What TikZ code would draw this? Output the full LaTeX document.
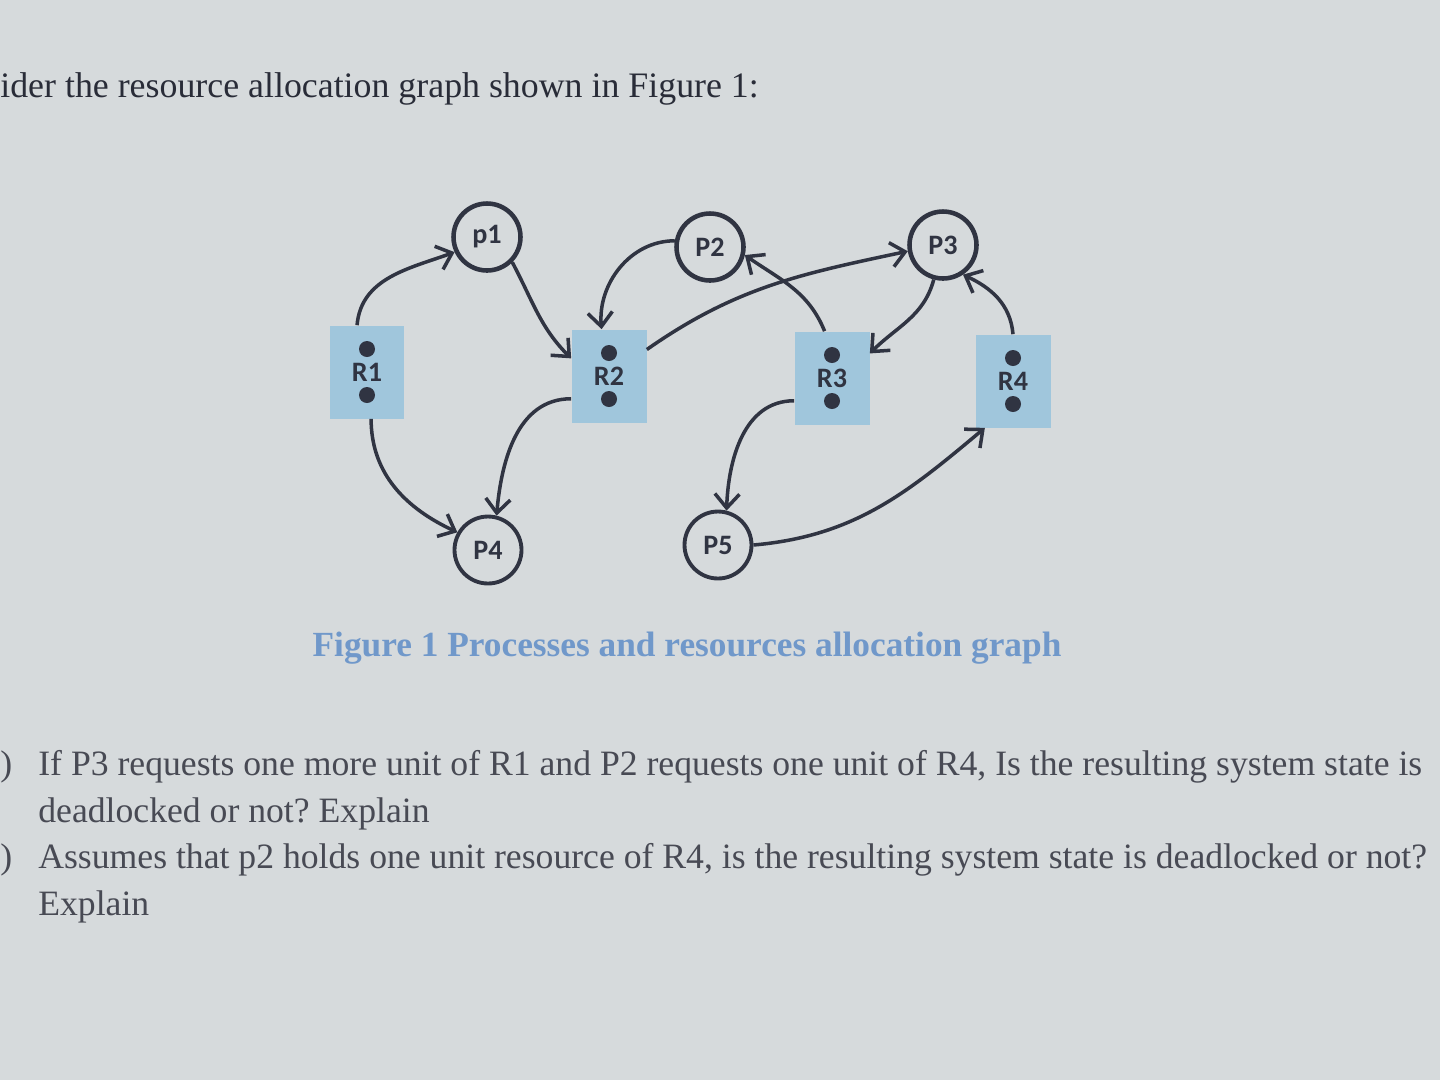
\documentclass[tikz,border=0pt]{standalone}
\usepackage{fontspec}
\setmainfont{Liberation Serif}
\newfontfamily\labelfont{Carlito}
\usepackage{tikz}
\usetikzlibrary{arrows.meta,calc}
\definecolor{paper}{RGB}{214,218,220}
\definecolor{ink}{RGB}{48,52,66}
\definecolor{resblue}{RGB}{160,198,220}
\definecolor{capblue}{RGB}{112,152,202}
\definecolor{qgray}{RGB}{72,74,84}
\frenchspacing

\begin{document}
\begin{tikzpicture}[x=0.02cm, y=0.02cm,
  proc/.style={circle, draw=ink, line width=2.6pt, minimum size=1.34cm,
    inner sep=0pt, text=ink, font=\labelfont\bfseries\fontsize{16}{16}\selectfont},
  res/.style={rectangle, fill=resblue, minimum width=1.5cm,
    minimum height=1.86cm, inner sep=0pt, text=ink,
    font=\labelfont\bfseries\fontsize{16}{16}\selectfont},
  edge/.style={draw=ink, line width=2pt,
    -{Straight Barb[length=8pt, width=14pt]}},
  para/.style={anchor=base west, inner sep=0pt, text=qgray,
    font=\fontsize{20.3}{20.3}\selectfont}
]

% Page
\fill[paper] (0,0) rectangle (1440,-1080);
\useasboundingbox (0,0) rectangle (1440,-1080);

% Heading
\node[anchor=base west, inner sep=0pt, text=ink!85!black,
  font=\fontsize{20.4}{20.4}\selectfont]
  (head) at (0,-97) {ider the resource allocation graph shown in Figure 1:};

% Processes
\node[proc] (p1) at (487,-237) {p1};
\node[proc] (p2) at (710,-247) {P2};
\node[proc] (p3) at (943,-245) {P3};
\node[proc, line width=2.2pt] (p4) at (488,-550) {P4};
\node[proc, line width=2.2pt] (p5) at (718,-545) {P5};

% Resources
\node[res] (r1) at (367,-372) {R1};
\node[res] (r2) at (609,-376) {R2};
\node[res] (r3) at (832,-378) {R3};
\node[res] (r4) at (1013,-381) {R4};
\foreach \r in {r1,r2,r3,r4} {
  \fill[ink] ($(\r)+(0,23)$) circle (8);
  \fill[ink] ($(\r)+(0,-23)$) circle (8);
}

% Edges
\draw[edge] (r1.102) to[out=85, in=200] (p1.205);
\draw[edge] (p1.-45) to[out=-62, in=135] (r2.155);
\draw[edge] (p2.170) to[out=180, in=95] (r2.99);
\draw[edge] (r2.35) to[out=35, in=192] (p3.190);
\draw[edge] (r3.99) to[out=112, in=-35] (p2.-13);
\draw[edge] (p3.255) to[out=-105, in=45] (r3.33);
\draw[edge] (r4.north) to[out=95, in=-25] (p3.-56);
\draw[edge] (r1.-85) to[out=-90, in=155] (p4.150);
\draw[edge] (r2.211) to[out=180, in=85] (p4.76);
\draw[edge] (r3.211) to[out=180, in=88] (p5.76);
\draw[edge] (p5.east) to[out=5, in=220] (r4.239);

% Caption
\node[text=capblue, font=\bfseries\fontsize{20.1}{20.1}\selectfont] (cap)
  at (687,-648) {Figure 1 Processes and resources allocation graph};

% Questions
\node[para] (qa) at (0,-775) {)};
\node[para] (q1) at (38,-775)
  {If P3 requests one more unit of R1 and P2 requests one unit of R4, Is the resulting system state is};
\node[para] (q2) at (38,-822) {deadlocked or not? Explain};
\node[para] (qb) at (0,-868) {)};
\node[para] (q3) at (38,-868)
  {Assumes that p2 holds one unit resource of R4, is the resulting system state is deadlocked or not?};
\node[para] (q4) at (38,-915) {Explain};

\end{tikzpicture}
\end{document}
